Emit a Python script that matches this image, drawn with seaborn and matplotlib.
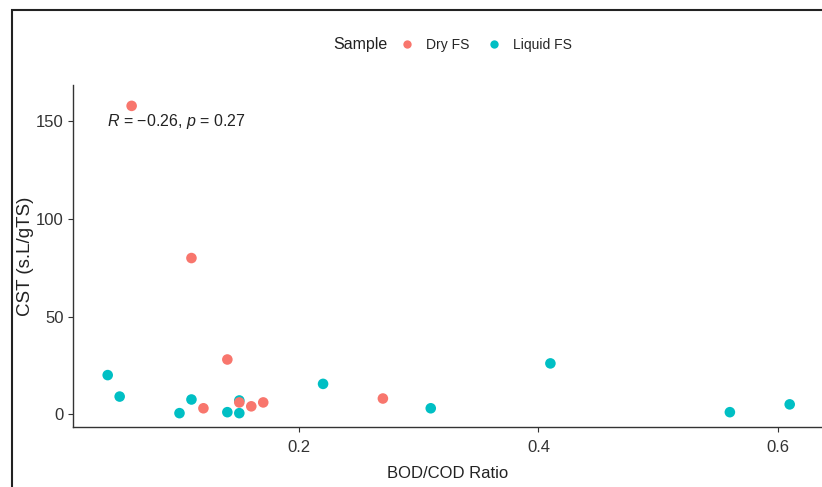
import matplotlib
matplotlib.use("Agg")
import matplotlib.pyplot as plt
import seaborn as sns
import pandas as pd
from matplotlib.patches import Rectangle
from matplotlib.lines import Line2D

dry_x = [0.06, 0.11, 0.14, 0.12, 0.15, 0.16, 0.17, 0.27]
dry_y = [158, 80, 28, 3, 6, 4, 6, 8]
liq_x = [0.04, 0.05, 0.10, 0.11, 0.14, 0.15, 0.15, 0.22, 0.31, 0.41, 0.56, 0.61]
liq_y = [20, 9, 0.5, 7.5, 1, 7, 0.5, 15.5, 3, 26, 1, 5]
samples = ["Dry FS", "Liquid FS"]
colors = ["#F8766D", "#00BFC4"]
x_ticks = [0.2, 0.4, 0.6]
y_ticks = [0, 50, 100, 150]

df = pd.DataFrame({
    "BOD/COD Ratio": liq_x + dry_x,
    "CST": liq_y + dry_y,
    "Sample": ["Liquid FS"] * len(liq_x) + ["Dry FS"] * len(dry_x),
})

sns.set_style("white")
plt.rcParams['font.family'] = ['Liberation Sans', 'DejaVu Sans']
plt.rcParams['mathtext.fontset'] = 'custom'
plt.rcParams['mathtext.it'] = 'Liberation Sans:italic'
plt.rcParams['mathtext.rm'] = 'Liberation Sans'

fig = plt.figure(figsize=(8.22, 4.87), dpi=100)
ax = fig.add_axes([73/822, 1-427/487, 1-73/822, (427-85)/487])

sns.scatterplot(data=df, x="BOD/COD Ratio", y="CST", hue="Sample",
                hue_order=samples, palette=dict(zip(samples, colors)),
                s=58, edgecolor="none", ax=ax, legend=False, zorder=3)

ax.set_xlim(0.011, 0.637)
ax.set_ylim(-6.6, 168.7)
ax.set_xticks(x_ticks)
ax.set_xticklabels([f"{v:.1f}" for v in x_ticks])
ax.set_yticks(y_ticks)
ax.set_yticklabels([str(v) for v in y_ticks])
for side in ["top", "right"]:
    ax.spines[side].set_visible(False)
for side in ["left", "bottom"]:
    ax.spines[side].set_color("#333333")
    ax.spines[side].set_linewidth(1.0)
ax.tick_params(axis="both", length=3.5, width=0.8, color="#333333",
               labelsize=12, labelcolor="#333333", pad=3, left=True, bottom=True)
ax.tick_params(axis="x", pad=6)
ax.set_xlabel("BOD/COD Ratio", fontsize=12, color="#222222")
ax.xaxis.set_label_coords(0.5, -0.115)
ax.set_ylabel("CST (s.L/gTS)", fontsize=13.5, color="#222222")
ax.yaxis.set_label_coords(-0.052, 0.5)

ax.text(0.039, 150, r"$\it{R}$ = −0.26, $\it{p}$ = 0.27", fontsize=11.5,
        color="#222222", va="center", ha="left")

# legend on top
fig.text(360/822, 1-45/487, "Sample", fontsize=11.5, ha="center", va="center", color="#222222")
handles = [Line2D([], [], marker="o", linestyle="none", markersize=6,
                  markerfacecolor=c, markeredgecolor="none") for c in colors]
fig.legend(handles, samples, ncol=2, loc="center left",
           bbox_to_anchor=(400/822, 1-45/487), frameon=False, fontsize=10,
           handletextpad=0.85, columnspacing=1.3, handlelength=1.0,
           borderaxespad=0, borderpad=0)

# figure border
fig.patches.append(Rectangle((12/822, -0.1), 1.2, 1-10/487+0.1, transform=fig.transFigure,
                             fill=False, edgecolor="#222222", linewidth=1.5, zorder=10))

fig.savefig("out.png", dpi=100)
